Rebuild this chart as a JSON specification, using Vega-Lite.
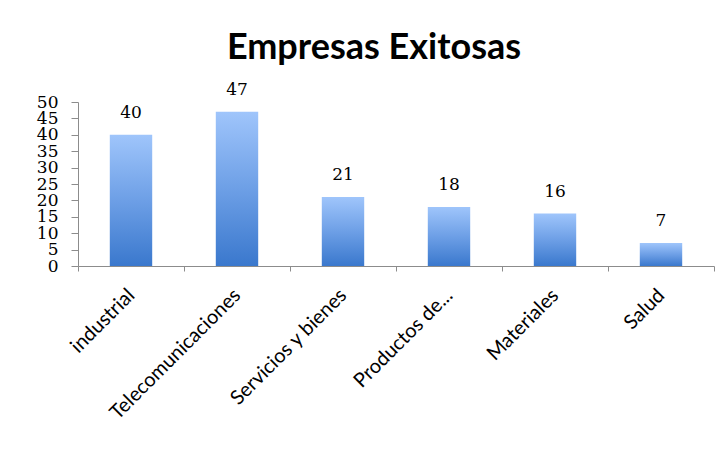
{
  "$schema": "https://vega.github.io/schema/vega-lite/v6.json",
  "autosize": "none",
  "width": 636,
  "height": 164,
  "padding": {"left": 78, "top": 102, "right": 14, "bottom": 196},
  "background": "white",
  "title": {
    "text": "Empresas Exitosas",
    "font": "Lato",
    "fontSize": 36,
    "fontWeight": "bold",
    "color": "#000000",
    "anchor": "middle",
    "frame": "group",
    "baseline": "alphabetic",
    "dx": -22,
    "offset": -14
  },
  "data": {
    "values": [
      {"sector": "industrial", "empresas": 40},
      {"sector": "Telecomunicaciones", "empresas": 47},
      {"sector": "Servicios y bienes", "empresas": 21},
      {"sector": "Productos de...", "empresas": 18},
      {"sector": "Materiales", "empresas": 16},
      {"sector": "Salud", "empresas": 7}
    ]
  },
  "encoding": {
    "x": {
      "field": "sector",
      "type": "nominal",
      "sort": null,
      "scale": {"paddingInner": 0, "paddingOuter": 0},
      "axis": {
        "title": null,
        "labelAngle": -45,
        "labelAlign": "right",
        "labelBaseline": "middle",
        "labelFont": "Lato",
        "labelFontSize": 20,
        "labelColor": "#000000",
        "labelPadding": 21,
        "labelLimit": 300,
        "tickBand": "extent",
        "tickSize": 5,
        "tickColor": "#8c8c8c",
        "domainColor": "#8c8c8c",
        "grid": false
      }
    },
    "y": {
      "field": "empresas",
      "type": "quantitative",
      "scale": {"domain": [0, 50], "nice": false},
      "axis": {
        "title": null,
        "values": [0, 5, 10, 15, 20, 25, 30, 35, 40, 45, 50],
        "labelFont": "DejaVu Serif",
        "labelFontSize": 17,
        "labelColor": "#000000",
        "labelPadding": 13,
        "labelFlush": false,
        "labelOverlap": false,
        "tickSize": 7,
        "tickColor": "#8c8c8c",
        "domainColor": "#8c8c8c",
        "grid": false
      }
    }
  },
  "layer": [
    {
      "mark": {
        "type": "bar",
        "width": {"band": 0.4},
        "color": {
          "gradient": "linear",
          "x1": 0, "y1": 0, "x2": 0, "y2": 1,
          "stops": [
            {"offset": 0, "color": "#9fc5fb"},
            {"offset": 0.5, "color": "#6d9fe6"},
            {"offset": 1, "color": "#3a78cd"}
          ]
        }
      }
    },
    {
      "mark": {
        "type": "text",
        "baseline": "bottom",
        "dy": -13,
        "font": "DejaVu Serif",
        "fontSize": 17,
        "color": "#000000"
      },
      "encoding": {"text": {"field": "empresas", "type": "quantitative"}}
    }
  ],
  "config": {"view": {"stroke": null}}
}
